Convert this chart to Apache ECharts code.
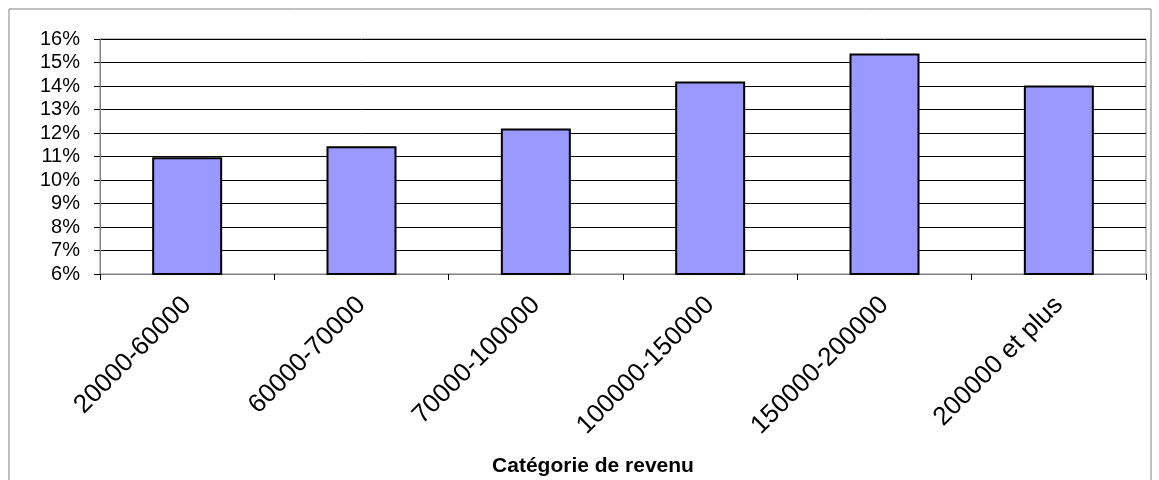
<!DOCTYPE html>
<html>
<head>
<meta charset="utf-8">
<script src="https://cdn.jsdelivr.net/npm/echarts@6/dist/echarts.min.js"></script>
<style>
  html, body { margin: 0; padding: 0; background: #fff; }
  #chart { width: 1159px; height: 480px; }
</style>
</head>
<body>
<div id="chart"></div>
<script>
// catégories de revenu
var categories = ['20000-60000', '60000-70000', '70000-100000', '100000-150000', '150000-200000', '200000 et plus'];
// pourcentages (%)
var values = [10.97, 11.44, 12.19, 14.19, 15.38, 14.02];
// axe des y
var yMin = 6, yMax = 16, yStep = 1;

var myChart = echarts.init(document.getElementById('chart'));

var option = {
    animation: false,
    backgroundColor: '#fff',
    textStyle: { fontFamily: 'Liberation Sans, Arial, sans-serif' },
    grid: {
        left: 100, right: 13, top: 39, bottom: 206,
        show: true, borderColor: '#808080', borderWidth: 1
    },
    graphic: [
        {
            type: 'rect',
            shape: { x: 9, y: 9, width: 1142, height: 490 },
            style: { fill: null, stroke: '#808080', lineWidth: 1 },
            silent: true
        },
        {
            type: 'text',
            x: 593, y: 466,
            style: {
                text: 'Catégorie de revenu',
                fontFamily: 'Liberation Sans, Arial, sans-serif',
                fontWeight: 'bold', fontSize: 21,
                fill: '#000',
                textAlign: 'center', textVerticalAlign: 'middle'
            }
        }
    ],
    xAxis: {
        type: 'category',
        data: categories,
        axisLine: { lineStyle: { color: '#808080', width: 1 } },
        axisTick: { show: true, length: 6, lineStyle: { color: '#000' } },
        axisLabel: {
            rotate: 45, margin: 27,
            fontSize: 26, color: '#000',
            fontFamily: 'Liberation Sans, Arial, sans-serif'
        },
        splitLine: { show: false }
    },
    yAxis: {
        type: 'value',
        min: yMin, max: yMax, interval: yStep,
        axisLine: { show: true, lineStyle: { color: '#808080', width: 1 } },
        axisTick: { show: true, length: 6, lineStyle: { color: '#000' } },
        axisLabel: {
            formatter: '{value}%', margin: 20,
            fontSize: 20, color: '#000',
            fontFamily: 'Liberation Sans, Arial, sans-serif'
        },
        splitLine: { show: true, lineStyle: { color: '#000', width: 1 } }
    },
    series: [{
        type: 'bar',
        data: values,
        barWidth: 70,
        itemStyle: { color: '#9999FF', borderColor: '#000', borderWidth: 2 }
    }]
};

myChart.setOption(option);
</script>
</body>
</html>
